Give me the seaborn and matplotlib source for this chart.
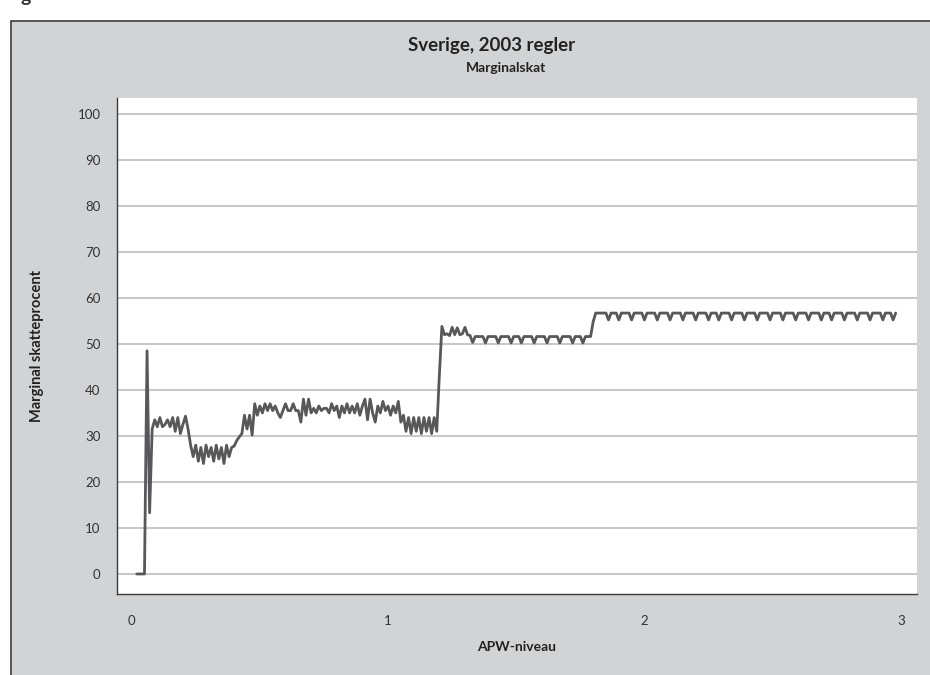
import matplotlib
matplotlib.use("Agg")
import matplotlib.pyplot as plt
from matplotlib.patches import Rectangle
import seaborn as sns
import numpy as np
import pandas as pd

# APW-levels: income as multiple of the average production worker wage, step 0.01
apw = np.round(np.arange(0.02, 2.985, 0.01), 2)

# Marginal tax rate (%)
start_seg = [0, 0, 0, 0, 48.5, 13.3, 31.5, 33.5, 32, 34, 32, 32.5, 33.5, 32,
             34, 31, 34, 30.5, 32.5, 34.3, 31.5, 28]
low_seg = [25.5, 28, 24.5, 27.5, 24, 28, 25.5, 27.5, 24.5, 28, 25, 27.5, 24,
           28, 25.5, 27.5, 27.8, 29, 29.8, 30.5, 34.5, 31.5, 34.5, 30.2, 37]
mid_seg = [34.5, 36.5, 35, 37, 35.5, 37, 35.5, 36.5, 35, 34, 35.5, 37, 35.5,
           35.5, 37, 35.5, 35.5,
           33, 38, 34.5, 38, 35, 36, 35, 36.5, 35.5, 36, 36, 35, 37, 35.5,
           36.5, 34, 36.5, 35, 37, 35, 36.5, 35, 37, 34.5, 36.5, 38, 33.5, 38,
           35, 33, 36.5, 35, 37.5, 35.5, 36.5, 34.5, 36.5, 35, 37.5, 33]
dip_seg = [34.5, 31, 34, 30.5, 34, 31, 34, 30.5, 34, 31, 34, 30.5, 34, 31]
jump_seg = [43, 53.8, 52, 52.2, 51.8, 53.6, 52, 53.5, 52, 52.2, 53.6, 52,
            51.8, 50.3]
plateau_51 = [51.6, 51.6, 51.6, 51.6, 50.2,
              51.6, 51.6, 51.6, 51.6, 50.2,
              51.6, 51.6, 51.6, 51.6, 50.2,
              51.6, 51.6, 51.6, 50.2,
              51.6, 51.6, 51.6, 51.6, 50.2,
              51.6, 51.6, 51.6, 51.6, 50.2,
              51.6, 51.6, 51.6, 51.6, 50.2,
              51.6, 51.6, 51.6, 51.6, 50.2,
              51.6, 51.6, 51.6, 50.2,
              51.6, 51.6, 51.6]
step_seg = [54.8, 56.7]
plateau_56 = [56.7, 56.7, 56.7, 56.7, 55.2,
              56.7, 56.7, 56.7, 55.2,
              56.7, 56.7, 56.7, 56.7, 55.2,
              56.7, 56.7, 56.7, 56.7, 55.2,
              56.7, 56.7, 56.7, 56.7, 55.2,
              56.7, 56.7, 56.7, 56.7, 55.2,
              56.7, 56.7, 56.7, 56.7, 55.2,
              56.7, 56.7, 56.7, 56.7, 55.2,
              56.7, 56.7, 56.7, 56.7, 55.2,
              56.7, 56.7, 56.7, 55.2,
              56.7, 56.7, 56.7, 56.7, 55.2,
              56.7, 56.7, 56.7, 56.7, 55.2,
              56.7, 56.7, 56.7, 56.7, 55.2,
              56.7, 56.7, 56.7, 56.7, 55.2,
              56.7, 56.7, 56.7, 56.7, 55.2,
              56.7, 56.7, 56.7, 56.7, 55.2,
              56.7, 56.7, 56.7, 56.7, 55.2,
              56.7, 56.7, 56.7, 56.7, 55.2,
              56.7, 56.7, 56.7, 55.2,
              56.7, 56.7, 56.7, 56.7, 55.2,
              56.7, 56.7, 56.7, 56.7, 55.2,
              56.7, 56.7, 56.7, 56.7, 55.2,
              56.7, 56.7, 56.7, 56.7, 55.2,
              56.7, 56.7, 56.7, 55.2,
              56.7]

rate = start_seg + low_seg + mid_seg + dip_seg + jump_seg + plateau_51 + step_seg + plateau_56

x_ticks = [0, 1, 2, 3]
y_ticks = list(range(0, 101, 10))

df = pd.DataFrame({"apw": apw, "rate": rate})

sns.set_style("white")
plt.rcParams["font.family"] = ["Lato", "DejaVu Sans"]

fig = plt.figure(figsize=(9.3, 6.75), dpi=100)
fig.patch.set_facecolor("white")

# grey panel with a dark border on the left and top
panel = Rectangle((10.5 / 930, -0.05), 1.1, 1 - 20.5 / 675 + 0.05,
                  transform=fig.transFigure, facecolor="#d2d3d5",
                  edgecolor="#3c3c3c", linewidth=1.2, zorder=-5)
fig.patches.append(panel)
# cut-off caption letter at the very top
fig.text(20 / 930, 1 - 2 / 675, "g", fontsize=14, fontweight="bold",
         color="#333333", va="baseline", ha="left")

ax = fig.add_axes([117.3 / 930, 1 - 594 / 675, 799.4 / 930, 496.3 / 675])
ax.set_facecolor("white")

sns.lineplot(data=df, x="apw", y="rate", ax=ax, color="#58585a",
             linewidth=2.0, estimator=None)

ax.set_xlim(-0.056, 3.062)
ax.set_ylim(-4.35, 103.5)
ax.set_xticks(x_ticks)
ax.set_yticks(y_ticks)
ax.yaxis.grid(True, color="#bdbdbd", linewidth=1.2)
ax.xaxis.grid(False)
ax.set_axisbelow(True)

for side in ["top", "right"]:
    ax.spines[side].set_visible(False)
for side in ["left", "bottom"]:
    ax.spines[side].set_color("#3a3a3a")
    ax.spines[side].set_linewidth(1.0)

ax.tick_params(axis="both", direction="out", length=7, width=0.9,
               color="#444444", labelcolor="#333333", labelsize=9.5)
ax.tick_params(axis="y", pad=5)
ax.tick_params(axis="x", pad=8)

ax.set_xlabel("APW-niveau", fontsize=10, fontweight="bold", color="#222222")
ax.set_ylabel("Marginal skatteprocent", fontsize=10.5, fontweight="bold",
              color="#222222")
ax.xaxis.set_label_coords(0.5, -0.095)
ax.yaxis.set_label_coords(-0.092, 0.5)

fig.text(492 / 930, 1 - 45 / 675, "Sverige, 2003 regler", fontsize=13.5,
         fontweight="bold", color="#222222", ha="center", va="center")
fig.text(506 / 930, 1 - 68 / 675, "Marginalskat", fontsize=10,
         fontweight="bold", color="#222222", ha="center", va="center")

fig.savefig("out.png", dpi=100)
